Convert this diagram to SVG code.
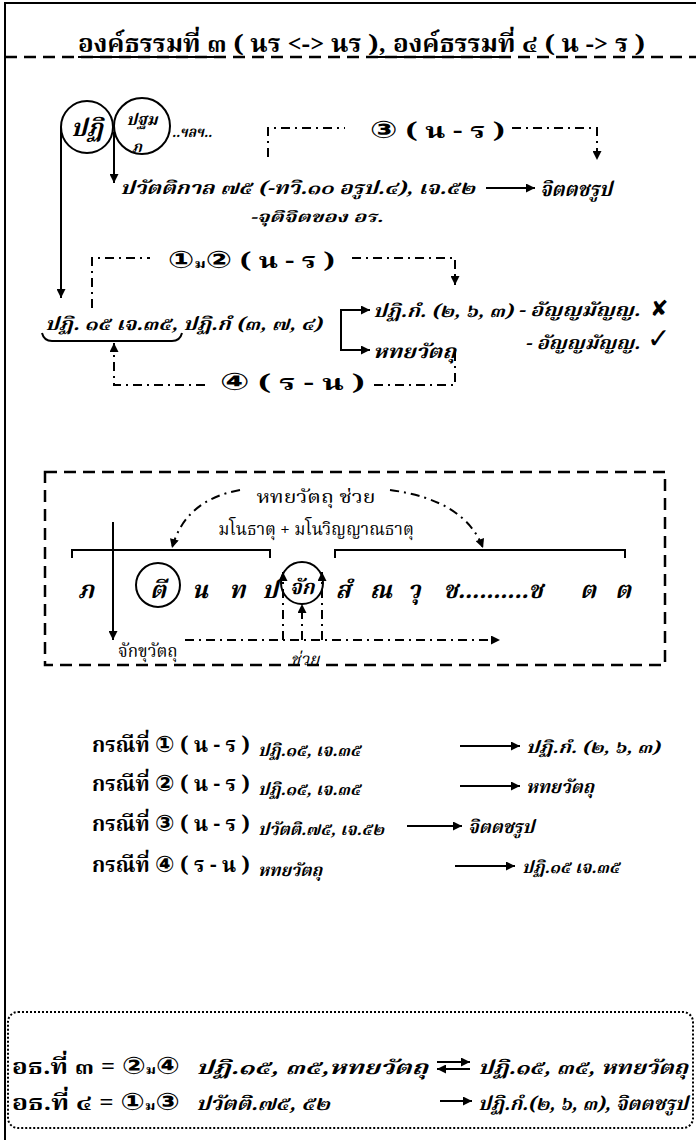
<svg xmlns="http://www.w3.org/2000/svg" width="696" height="1140" viewBox="0 0 696 1140">
<defs>
<marker id="ah" viewBox="0 0 10 10" refX="10" refY="5" markerWidth="10" markerHeight="9" markerUnits="userSpaceOnUse" orient="auto">
<path d="M0,0 L10,5 L0,10 z" fill="#000"/>
</marker>
<style>
.th{font-family:"Noto Serif Thai","Noto Sans Thai","Liberation Serif",serif;fill:#000}
.sym{font-family:"DejaVu Sans","Noto Sans CJK SC",sans-serif;fill:#000}
.b{font-weight:bold}
.i{font-style:italic}
.m{text-anchor:middle}
.ln{stroke:#000;stroke-width:2;fill:none}
.dd{stroke:#000;stroke-width:2;fill:none;stroke-dasharray:9 5 2 5}
.ds{stroke:#000;stroke-width:2.5;fill:none;stroke-dasharray:12 7}
.dt{stroke:#000;stroke-width:2;fill:none;stroke-dasharray:2 2}
.a{marker-end:url(#ah)}
</style>
</defs>
<rect width="696" height="1140" fill="#fff"/>
<g id="frame">
<path d="M5,1140 V3 H696" class="ln" stroke-width="3"/>
<line x1="5" y1="57" x2="696" y2="57" class="ds" stroke-width="2"/>
<line x1="78" y1="57" x2="224" y2="57" class="ln"/>
<line x1="368" y1="57" x2="506" y2="57" class="ln"/>
</g>
<g id="title">
<text x="78" y="52" class="th b" font-size="24" textLength="567" lengthAdjust="spacingAndGlyphs">องค์ธรรมที่ ๓ ( นร &lt;-&gt; นร ),  องค์ธรรมที่ ๔ ( น -&gt; ร )</text>
</g>
<g id="connectors">
<path d="M61,127 V298" class="ln a"/>
<path d="M114,132 V183" class="ln a"/>
<path d="M268,157 V128 H345" class="dd"/>
<path d="M512,128 H597 V160" class="dd a"/>
<path d="M486,188 H535" class="ln a"/>
<path d="M92,308 V258 H150" class="dd"/>
<path d="M352,258 H455 V285" class="dd a"/>
<path d="M341,330 V310 H370" class="ln a"/>
<path d="M341,330 V350 H370" class="ln a"/>
<path d="M455,352 V385 H372" class="dd"/>
<path d="M205,385 H114 V343" class="dd a"/>
<path d="M42,333 Q44,341 52,341 H172 Q180,341 182,333" class="ln"/>
<path d="M240,490 Q185,500 172,548" class="dd a"/>
<path d="M390,490 Q465,500 483,548" class="dd a"/>
<path d="M72,558 V550 H270 V558" class="ln"/>
<path d="M335,558 V550 H625 V558" class="ln"/>
<path d="M113,522 V640" class="ln a"/>
<path d="M283,640 V572" class="dd a"/>
<path d="M322,640 V572" class="dd a"/>
<path d="M302,640 V604" class="dd a" stroke-dasharray="6 4"/>
<path d="M185,640 H500" class="dd a"/>
<path d="M460,746 H520" class="ln a"/>
<path d="M460,786 H520" class="ln a"/>
<path d="M407,826 H462" class="ln a"/>
<path d="M455,866 H515" class="ln a"/>
<path d="M437,1062 H470" class="ln a"/>
<path d="M470,1069 H437" class="ln a"/>
<path d="M440,1101 H472" class="ln a"/>
</g>
<g id="n-pati">
<circle cx="87" cy="127" r="26" class="ln"/>
<text x="87" y="136" class="th b i m" font-size="24">ปฏิ</text>
</g>
<g id="n-pathama">
<circle cx="142" cy="126" r="28" class="ln"/>
<text x="142" y="125" class="th b i m" font-size="16">ปฐม</text>
<text x="137" y="152" class="th b i m" font-size="15">ภ</text>
</g>
<g id="n-etc"><text x="172" y="137" class="th b i" font-size="15" textLength="40" lengthAdjust="spacingAndGlyphs">..ฯลฯ..</text></g>
<g id="n-c3"><text x="370" y="138" class="th b" font-size="22" textLength="135" lengthAdjust="spacingAndGlyphs"><tspan class="sym" font-size="24">③</tspan> ( น - ร )</text></g>
<g id="n-pavatti">
<text x="120" y="194" class="th b i" font-size="18" textLength="355" lengthAdjust="spacingAndGlyphs">ปวัตติกาล ๗๕ (-ทวิ.๑๐ อรูป.๔), เจ.๕๒</text>
<text x="250" y="222" class="th b i" font-size="15" textLength="133" lengthAdjust="spacingAndGlyphs">-จุติจิตของ อร.</text>
</g>
<g id="n-citta1"><text x="540" y="196" class="th b i" font-size="20" textLength="72" lengthAdjust="spacingAndGlyphs">จิตตชรูป</text></g>
<g id="n-c12"><text x="168" y="268" class="th b" font-size="22" textLength="167" lengthAdjust="spacingAndGlyphs"><tspan class="sym" font-size="24">①</tspan><tspan font-size="13">ม</tspan><tspan class="sym" font-size="24">②</tspan> ( น - ร )</text></g>
<g id="n-pati15"><text x="45" y="330" class="th b i" font-size="18" textLength="277" lengthAdjust="spacingAndGlyphs">ปฏิ. ๑๕ เจ.๓๕, ปฏิ.กํ (๓, ๗, ๔)</text></g>
<g id="n-patikam"><text x="373" y="317" class="th b i" font-size="18" textLength="140" lengthAdjust="spacingAndGlyphs">ปฏิ.กํ. (๒, ๖, ๓)</text>
<text x="518" y="316" class="th b i" font-size="18" textLength="122" lengthAdjust="spacingAndGlyphs">- อัญญมัญญ.</text>
<text x="650" y="316" class="sym b" font-size="22">✘</text></g>
<g id="n-hadaya"><text x="373" y="358" class="th b i" font-size="19" textLength="83" lengthAdjust="spacingAndGlyphs">หทยวัตถุ</text>
<text x="525" y="349" class="th b i" font-size="18" textLength="115" lengthAdjust="spacingAndGlyphs">- อัญญมัญญ.</text>
<text x="647" y="348" class="sym b" font-size="28">✓</text></g>
<g id="n-c4"><text x="220" y="390" class="th b" font-size="22" textLength="145" lengthAdjust="spacingAndGlyphs"><tspan class="sym" font-size="24">④</tspan> ( ร - น )</text></g>
<g id="n-vithi">
<rect x="45" y="472" width="620" height="193" class="ds"/>
<text x="316" y="503" class="th m" font-size="18" textLength="119" lengthAdjust="spacingAndGlyphs">หทยวัตถุ ช่วย</text>
<text x="316" y="535" class="th m" font-size="17">มโนธาตุ + มโนวิญญาณธาตุ</text>
<circle cx="158" cy="585" r="22" class="ln"/>
<circle cx="302" cy="583" r="21" class="ln"/>
<g class="th b i m" font-size="24">
<text x="86" y="598">ภ</text>
<text x="158" y="598">ตี</text>
<text x="200" y="598">น</text>
<text x="237" y="598">ท</text>
<text x="270" y="598">ป</text>
<text x="302" y="594" font-size="20">จัก</text>
<text x="343" y="598">สํ</text>
<text x="381" y="598">ณ</text>
<text x="414" y="598">วุ</text>
<text x="493" y="598">ช..........ช</text>
<text x="588" y="598">ต</text>
<text x="623" y="598">ต</text>
</g>
<text x="118" y="657" class="th" font-size="17">จักขุวัตถุ</text>
<text x="305" y="665" class="th i m" font-size="17">ช่วย</text>
</g>
<g id="n-case1"><text x="92" y="752" class="th b" font-size="21" textLength="158" lengthAdjust="spacingAndGlyphs">กรณีที่ <tspan class="sym" font-size="23">①</tspan> ( น - ร )</text>
<text x="258" y="756" class="th b i" font-size="17">ปฏิ.๑๕, เจ.๓๕</text>
<text x="526" y="753" class="th b i" font-size="17" textLength="134" lengthAdjust="spacingAndGlyphs">ปฏิ.กํ. (๒, ๖, ๓)</text></g>
<g id="n-case2"><text x="92" y="791" class="th b" font-size="21" textLength="158" lengthAdjust="spacingAndGlyphs">กรณีที่ <tspan class="sym" font-size="23">②</tspan> ( น - ร )</text>
<text x="258" y="795" class="th b i" font-size="17">ปฏิ.๑๕, เจ.๓๕</text>
<text x="526" y="793" class="th b i" font-size="18">หทยวัตถุ</text></g>
<g id="n-case3"><text x="92" y="831" class="th b" font-size="21" textLength="158" lengthAdjust="spacingAndGlyphs">กรณีที่ <tspan class="sym" font-size="23">③</tspan> ( น - ร )</text>
<text x="258" y="835" class="th b i" font-size="17">ปวัตติ.๗๕, เจ.๕๒</text>
<text x="468" y="833" class="th b i" font-size="18">จิตตชรูป</text></g>
<g id="n-case4"><text x="92" y="872" class="th b" font-size="21" textLength="158" lengthAdjust="spacingAndGlyphs">กรณีที่ <tspan class="sym" font-size="23">④</tspan> ( ร - น )</text>
<text x="258" y="876" class="th b i" font-size="17">หทยวัตถุ</text>
<text x="522" y="873" class="th b i" font-size="17">ปฏิ.๑๕ เจ.๓๕</text></g>
<g id="n-summary">
<rect x="8" y="1012" width="685" height="116" rx="10" class="dt"/>
<text x="12" y="1074" class="th b" font-size="22" textLength="168" lengthAdjust="spacingAndGlyphs">อธ.ที่ ๓ = <tspan class="sym" font-size="24">②</tspan><tspan font-size="13">ม</tspan><tspan class="sym" font-size="24">④</tspan></text>
<text x="196" y="1074" class="th b i" font-size="19" textLength="232" lengthAdjust="spacingAndGlyphs">ปฏิ.๑๕, ๓๕,หทยวัตถุ</text>
<text x="478" y="1074" class="th b i" font-size="19" textLength="210" lengthAdjust="spacingAndGlyphs">ปฏิ.๑๕, ๓๕, หทยวัตถุ</text>
<text x="12" y="1110" class="th b" font-size="22" textLength="168" lengthAdjust="spacingAndGlyphs">อธ.ที่ ๔ = <tspan class="sym" font-size="24">①</tspan><tspan font-size="13">ม</tspan><tspan class="sym" font-size="24">③</tspan></text>
<text x="196" y="1110" class="th b i" font-size="19" textLength="134" lengthAdjust="spacingAndGlyphs">ปวัตติ.๗๕, ๕๒</text>
<text x="478" y="1110" class="th b i" font-size="19" textLength="210" lengthAdjust="spacingAndGlyphs">ปฏิ.กํ.(๒, ๖, ๓), จิตตชรูป</text>
</g>
</svg>
